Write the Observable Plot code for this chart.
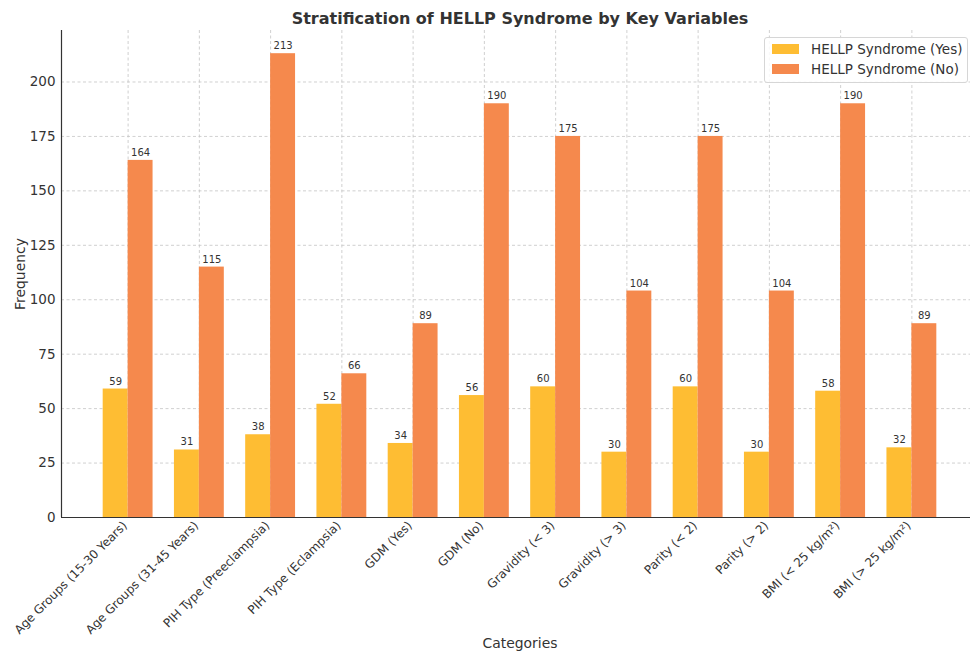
<!DOCTYPE html>
<html>
<head>
<meta charset="utf-8">
<script src="https://cdn.jsdelivr.net/npm/d3@7"></script>
<script src="https://cdn.jsdelivr.net/npm/@observablehq/plot@0.6"></script>
<style>
  html, body { margin: 0; padding: 0; background: #fff; overflow: hidden; }
  #wrap { position: relative; width: 970px; height: 653px; font-family: "DejaVu Sans", sans-serif; }
  #legend { position: absolute; left: 764px; top: 37px; width: 202px; height: 44px;
    border: 1px solid #d6d6d6; border-radius: 3px; background: rgba(255,255,255,0.85);
    font-size: 13.5px; color: #333; }
  .item { position: absolute; left: 7px; height: 20px; display: flex; align-items: center; }
  .sw { width: 27px; height: 10px; margin-right: 12px; }
</style>
</head>
<body>
<div id="wrap"></div>
<script>
const categories = [
  "Age Groups (15-30 Years)", "Age Groups (31-45 Years)", "PIH Type (Preeclampsia)",
  "PIH Type (Eclampsia)", "GDM (Yes)", "GDM (No)", "Gravidity (< 3)", "Gravidity (> 3)",
  "Parity (< 2)", "Parity (> 2)", "BMI (< 25 kg/m²)", "BMI (> 25 kg/m²)"
];
const yesValues = [59, 31, 38, 52, 34, 56, 60, 30, 60, 30, 58, 32];
const noValues = [164, 115, 213, 66, 89, 190, 175, 104, 175, 104, 190, 89];
const yTicks = [0, 25, 50, 75, 100, 125, 150, 175, 200];
const seriesNames = ["HELLP Syndrome (Yes)", "HELLP Syndrome (No)"];
const colors = ["#FEBD33", "#F5894D"];

const barW = 0.35;
const xPad = 0.05 * (categories.length - 1 + 2 * barW);
const xMin = -barW - xPad;
const xMax = categories.length - 1 + barW + xPad;
const rows = categories.map((c, i) => ({i, category: c, yes: yesValues[i], no: noValues[i]}));
const idx = categories.map((c, i) => i);
const textColor = "#333";
const gridStyle = {stroke: "#c4c4c4", strokeOpacity: 1, strokeDasharray: "3,2.5", strokeWidth: 0.8};

const chart = Plot.plot({
  width: 970,
  height: 653,
  marginTop: 30,
  marginBottom: 136,
  marginLeft: 61,
  marginRight: -8,
  style: {fontFamily: "DejaVu Sans, sans-serif", background: "white", overflow: "hidden"},
  x: {type: "linear", domain: [xMin, xMax]},
  y: {domain: [0, 213 * 1.05]},
  marks: [
    Plot.gridY(yTicks, gridStyle),
    Plot.gridX(idx, gridStyle),
    Plot.rectY(rows, {x1: d => d.i - barW, x2: d => d.i, y1: 0, y2: "yes", fill: colors[0]}),
    Plot.rectY(rows, {x1: d => d.i, x2: d => d.i + barW, y1: 0, y2: "no", fill: colors[1]}),
    Plot.text(rows, {x: d => d.i - barW / 2, y: "yes", text: d => String(d.yes), lineAnchor: "bottom", dy: -4.5, fontSize: 10, fill: textColor}),
    Plot.text(rows, {x: d => d.i + barW / 2, y: "no", text: d => String(d.no), lineAnchor: "bottom", dy: -4.5, fontSize: 10, fill: textColor}),
    Plot.axisY({ticks: yTicks, tickSize: 0, tickPadding: 6, fontSize: 13.5, label: null, color: textColor}),
    Plot.axisX({ticks: idx, tickFormat: i => categories[i], tickRotate: -45, tickSize: 0, tickPadding: 6, fontSize: 12, label: null, color: textColor, dx: -3}),
    Plot.ruleY([0], {stroke: "#333", strokeWidth: 1.2}),
    Plot.ruleX([xMin], {stroke: "#333", strokeWidth: 1.2}),
    Plot.text(["Frequency"], {frameAnchor: "left", dx: -41, rotate: -90, textAnchor: "middle", lineAnchor: "middle", fontSize: 13.9, fill: textColor}),
    Plot.text(["Categories"], {frameAnchor: "bottom", dy: 126, lineAnchor: "middle", fontSize: 13.9, fill: textColor}),
    Plot.text(["Stratification of HELLP Syndrome by Key Variables"], {frameAnchor: "top", dy: -12, lineAnchor: "middle", fontSize: 16, fontWeight: "bold", fill: textColor})
  ]
});
const wrap = document.getElementById("wrap");
wrap.appendChild(chart);

const legend = document.createElement("div");
legend.id = "legend";
seriesNames.forEach((name, k) => {
  const it = document.createElement("div");
  it.className = "item";
  it.style.top = (k === 0 ? 1 : 21) + "px";
  const sw = document.createElement("span");
  sw.className = "sw";
  sw.style.background = colors[k];
  const lab = document.createElement("span");
  lab.textContent = name;
  it.appendChild(sw);
  it.appendChild(lab);
  legend.appendChild(it);
});
wrap.appendChild(legend);
</script>
</body>
</html>
